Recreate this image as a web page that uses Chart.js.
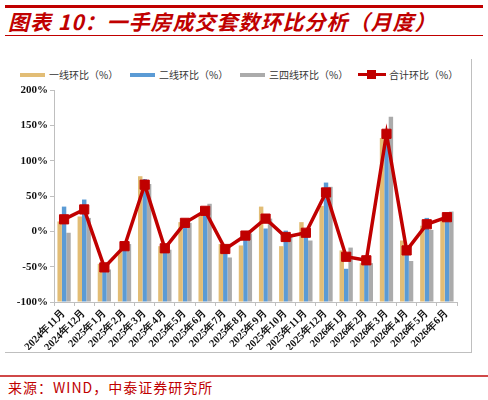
<!DOCTYPE html>
<html>
<head>
<meta charset="utf-8">
<script src="https://cdn.jsdelivr.net/npm/chart.js@4.4.1/dist/chart.umd.min.js"></script>
<style>
    body { margin: 0; width: 488px; height: 400px; background: #fff; position: relative; overflow: hidden; font-family: "Noto Sans CJK SC", sans-serif; }
    .abs { position: absolute; }
    #title { left: 8px; top: 6px; font-size: 21px; font-weight: bold; font-style: italic; color: #C00000; white-space: nowrap; letter-spacing: 1px; }
    .legend-text { font-size: 10px; color: #333; white-space: nowrap; top: 67px; }
    .swatch { height: 4px; width: 25px; top: 73px; }
    #source { left: 8px; top: 377px; font-size: 14px; color: #C00000; white-space: nowrap; letter-spacing: 1px; }
</style>
</head>
<body>
<div class="abs" style="left:5px; top:5px; width:478px; height:3px; background:#C00000;"></div>
<div id="title" class="abs">图表 10：一手房成交套数环比分析（月度）</div>
<div class="abs" style="left:5px; top:35px; width:478px; height:1px; background:#C00000;"></div>

<div class="abs" style="left:471px; top:59px; width:1px; height:293px; background:#BFBFBF;"></div>
<div class="abs" style="left:5px; top:352px; width:467px; height:1px; background:#BFBFBF;"></div>

<div class="abs swatch" style="left:20px; background:#E2BD76;"></div>
<div class="abs legend-text" style="left:49px;">一线环比（%）</div>
<div class="abs swatch" style="left:130px; background:#5B9BD5;"></div>
<div class="abs legend-text" style="left:159px;">二线环比（%）</div>
<div class="abs swatch" style="left:240px; background:#ABABAB;"></div>
<div class="abs legend-text" style="left:269px;">三四线环比（%）</div>
<div class="abs" style="left:358px; top:73px; width:28px; height:3px; background:#C00000;"></div>
<div class="abs" style="left:367px; top:70px; width:9px; height:9px; background:#C00000;"></div>
<div class="abs legend-text" style="left:389px;">合计环比（%）</div>

<div class="abs" style="left:0px; top:80px; width:472px; height:270px;">
    <canvas id="mainChart" width="472" height="270"></canvas>
</div>

<div class="abs" style="left:0px; top:375px; width:488px; height:1.5px; background:#D04848;"></div>
<div id="source" class="abs">来源：WIND，中泰证券研究所</div>

<script>
const months = ['2024年11月', '2024年12月', '2025年1月', '2025年2月', '2025年3月', '2025年4月', '2025年5月',
    '2025年6月', '2025年7月', '2025年8月', '2025年9月', '2025年10月', '2025年11月', '2025年12月',
    '2026年1月', '2026年2月', '2026年3月', '2026年4月', '2026年5月', '2026年6月'];

// 一线 / 二线 / 三四线 / 合计 环比 (%)
const tier1 = [14, 21, -46, -28, 78, -21, 13, 22, -18, -20, 35, -21, 13, 36, -27, -45, 132, -13, 8, 16];
const tier2 = [35, 45, -56, -21, 74, -30, 5, 22, -29, -11, 4, 1, -7, 69, -53, -34, 128, -28, 19, 16];
const tier34 = [-2, 19, -54, -18, 67, -26, 12, 39, -37, -3, 18, -7, -13, 63, -23, -45, 162, -42, 2, 28];
const total = [17, 31, -51, -21, 66, -24, 12, 29, -25, -6, 18, -8, -2, 55, -36, -41, 138, -27, 10, 20];

const yTicks = [-100, -50, 0, 50, 100, 150, 200];

const axisFont = { family: '"Liberation Serif", serif', weight: 'bold', size: 11 };

function barSet(label, values, color) {
    return {
        type: 'bar',
        label: label,
        data: values,
        backgroundColor: color,
        base: -100,
        categoryPercentage: 0.66,
        barPercentage: 1,
        order: 1
    };
}

const ctx = document.getElementById('mainChart').getContext('2d');
new Chart(ctx, {
    data: {
        labels: months,
        datasets: [
            barSet('一线环比（%）', tier1, '#E2BD76'),
            barSet('二线环比（%）', tier2, '#5B9BD5'),
            barSet('三四线环比（%）', tier34, '#ABABAB'),
            {
                type: 'line',
                label: '合计环比（%）',
                data: total,
                borderColor: '#C00000',
                backgroundColor: '#C00000',
                borderWidth: 3.5,
                pointStyle: 'rect',
                pointRadius: 6.5,
                pointBorderWidth: 1,
                tension: 0,
                order: 0
            }
        ]
    },
    options: {
        responsive: false,
        animation: false,
        devicePixelRatio: 1,
        layout: { padding: { top: 10, right: 15, left: 0, bottom: 0 } },
        plugins: {
            legend: { display: false },
            tooltip: { enabled: false }
        },
        scales: {
            y: {
                min: -100,
                max: 200,
                afterBuildTicks: scale => { scale.ticks = yTicks.map(v => ({ value: v })); },
                afterFit: scale => { scale.width = 54; },
                ticks: { callback: v => v + '%', font: axisFont, color: '#111', padding: 2 },
                grid: { drawOnChartArea: false, tickLength: 4, color: '#BFBFBF' },
                border: { color: '#BFBFBF' }
            },
            x: {
                afterFit: scale => { scale.height = 48; },
                ticks: {
                    autoSkip: false,
                    minRotation: 45,
                    maxRotation: 45,
                    font: { family: '"Liberation Serif", serif', weight: 'bold', size: 10.5 },
                    color: '#111',
                    padding: 1
                },
                grid: { offset: true, drawOnChartArea: false, tickLength: 4, color: '#BFBFBF' },
                border: { color: '#BFBFBF' }
            }
        }
    }
});
</script>
</body>
</html>
